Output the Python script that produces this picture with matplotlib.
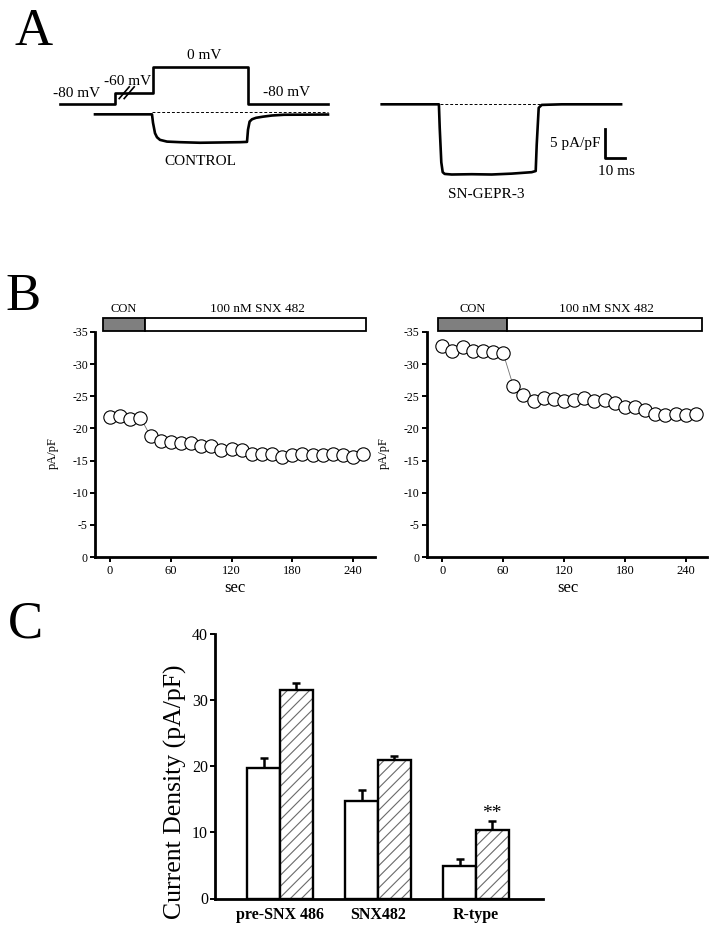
import numpy as np
import matplotlib
matplotlib.use("Agg")
import matplotlib.pyplot as plt
from matplotlib.patches import Rectangle
from matplotlib.transforms import blended_transform_factory, ScaledTranslation

plt.rcParams['font.family'] = ['Liberation Serif', 'DejaVu Serif']
plt.rcParams['axes.unicode_minus'] = False
plt.rcParams['hatch.linewidth'] = 0.8

# ---------------- data ----------------
# Panel A: voltage protocol (ms, mV)
protocol_t = [0, 27.5, 46.5, 94, 134]
protocol_mv = [-80, -60, 0, -80, -80]
# Panel A: CONTROL current trace (ms, pA/pF)
control_t = [17.5, 46, 46.5, 47.5, 48.5, 50, 53.5, 60, 70, 80, 90, 93.5,
             94, 94.8, 96, 98, 101.5, 106, 112, 134]
control_i = [-0.35, -0.35, -1.8, -3.6, -4.3, -4.75, -5.05, -5.15, -5.25, -5.2,
             -5.15, -5.1, -3.0, -1.6, -1.2, -0.95, -0.75, -0.55, -0.42, -0.38]
# Panel A: SN-GEPR-3 current trace (ms, pA/pF)
sn_t = [0, 28.6, 29.0, 29.8, 30.5, 31.5, 35, 45, 55, 65, 75, 77.0, 77.5,
        78.5, 80, 90, 119.7]
sn_i = [0, 0, -4, -10, -11.7, -12.0, -12.1, -12.05, -12.1, -11.95, -11.7,
        -11.5, -7, -0.6, -0.1, 0, 0]
scalebar_current = 5   # pA/pF
scalebar_time = 10     # ms

# Panel B: time course
time_s = [0, 10, 20, 30, 40, 50, 60, 70, 80, 90, 100, 110, 120, 130, 140,
          150, 160, 170, 180, 190, 200, 210, 220, 230, 240, 250]
left_current = [-21.8, -22.0, -21.5, -21.7, -18.8, -18.1, -17.9, -17.8, -17.8,
                -17.3, -17.2, -16.6, -16.8, -16.6, -16.0, -16.1, -16.0, -15.5,
                -15.8, -16.1, -15.8, -15.9, -16.1, -15.8, -15.6, -16.0]
right_current = [-32.8, -32.0, -32.7, -32.1, -32.0, -31.9, -31.7, -26.6, -25.2,
                 -24.2, -24.8, -24.6, -24.2, -24.5, -24.8, -24.2, -24.4, -23.9,
                 -23.4, -23.3, -22.9, -22.2, -22.1, -22.2, -22.1, -22.2]
left_bar = [-6.6, 34.3, 253.0]     # start, end of CON, end of SNX
right_bar = [-4.5, 63.8, 256.2]
bar_labels = ['CON', '100 nM SNX 482']
b_yticks = [0, -5, -10, -15, -20, -25, -30, -35]
b_xticks = [0, 60, 120, 180, 240]

# Panel C: current density
categories = ['pre-SNX 486', 'SNX482', 'R-type']
white_mean = [19.7, 14.8, 4.9]
white_sem = [1.6, 1.6, 1.0]
hatched_mean = [31.5, 20.9, 10.3]
hatched_sem = [1.1, 0.6, 1.4]
c_yticks = [0, 10, 20, 30, 40]

# ---------------- figure ----------------
W, H = 716, 936
fig = plt.figure(figsize=(W / 100, H / 100), dpi=100)


def px_axes(x0, y0, x1, y1):
    return fig.add_axes([x0 / W, 1 - y1 / H, (x1 - x0) / W, (y1 - y0) / H])


def ftext(x, y, s, **kw):
    kw.setdefault('va', 'baseline')
    fig.text(x / W, 1 - y / H, s, **kw)


# ---------- Panel A ----------
levels = [-400, -80, -60, 0, 400]
disp = [-180.8, 0, 11.3, 37.3, 210.6]


def fwd(v):
    return np.interp(v, levels, disp)


def inv(d):
    return np.interp(d, disp, levels)


axP = px_axes(40, 40, 360, 130)
axP.set_yscale('function', functions=(fwd, inv))
axP.plot(protocol_t, protocol_mv, drawstyle='steps-post', color='k', lw=1.9)
axP.set_xlim(-10, 150)
axP.set_ylim(-126.0, 61.6)
axP.axis('off')
axP.patch.set_alpha(0)
tr = fig.dpi_scale_trans + ScaledTranslation(33.35, -60, axP.transData)
for off in (-0.025, 0.025):
    axP.plot([off - 0.05, off + 0.05], [-0.0585, 0.0585], transform=tr,
             color='k', lw=1.2, clip_on=False)

axC = px_axes(40, 40, 360, 200)
axC.plot(control_t, control_i, color='k', lw=1.9, solid_joinstyle='round')
axC.plot([46, 134], [0, 0], color='k', lw=0.7, ls=(0, (3, 2)))
axC.set_xlim(-10, 150)
axC.set_ylim(-15.12, 12.47)
axC.axis('off')
axC.patch.set_alpha(0)

axS = px_axes(370, 40, 716, 210)
axS.plot(sn_t, sn_i, color='k', lw=1.9, solid_joinstyle='round')
axS.plot([29.2, 79.2], [0, 0], color='k', lw=0.7, ls=(0, (3, 2)))
sb_t, sb_i = 111.7, -9.3
axS.plot([sb_t, sb_t, sb_t + scalebar_time],
         [sb_i + scalebar_current, sb_i, sb_i], color='k', lw=2.0)
axS.set_xlim(-5.85, 167.15)
axS.set_ylim(-18.22, 11.09)
axS.axis('off')
axS.patch.set_alpha(0)

ftext(15, 45, 'A', ha='left', fontsize=38)
ftext(76.7, 96.7, '-80 mV', ha='center', fontsize=11)
ftext(127.5, 85, '-60 mV', ha='center', fontsize=11)
ftext(204, 59.3, '0 mV', ha='center', fontsize=11)
ftext(286.7, 96, '-80 mV', ha='center', fontsize=11)
ftext(200.8, 165, 'CONTROL', ha='center', fontsize=11)
ftext(486.7, 198.3, 'SN-GEPR-3', ha='center', fontsize=11)
ftext(600, 147.3, '5 pA/pF', ha='right', fontsize=11)
ftext(616.7, 175, '10 ms', ha='center', fontsize=11)

# ---------- Panel B ----------
ftext(5, 310, 'B', ha='left', fontsize=38)


def style_b(ax, data, bar, xlim, sec_xy):
    ax.plot(time_s, data, color='0.45', lw=0.6, zorder=2)
    ax.plot(time_s, data, ls='none', marker='o', ms=9.6, mfc='white',
            mec='k', mew=0.8, zorder=3, clip_on=False)
    ax.set_xlim(*xlim)
    ax.set_ylim(0, -35)
    ax.set_yticks(b_yticks)
    ax.set_xticks(b_xticks)
    for s in ('top', 'right'):
        ax.spines[s].set_visible(False)
    for s in ('left', 'bottom'):
        ax.spines[s].set_linewidth(2.0)
    ax.tick_params(axis='y', direction='out', length=3.6, width=1.4,
                   pad=1.5, labelsize=8.5)
    ax.tick_params(axis='x', direction='out', length=3.4, width=1.4,
                   pad=2.5, labelsize=9)
    ax.set_ylabel('pA/pF', fontsize=9, va='center')
    ax.yaxis.set_label_coords(-0.152, 0.46)
    ax.set_xlabel('sec', fontsize=12, va='baseline')
    ax.xaxis.set_label_coords(sec_xy[0], sec_xy[1])
    trb = blended_transform_factory(ax.transData, ax.transAxes)
    y0, h = 1.0044, 0.0566
    ax.add_patch(Rectangle((bar[0], y0), bar[1] - bar[0], h, transform=trb,
                           facecolor='#7f7f7f', edgecolor='k', lw=1.3,
                           clip_on=False))
    ax.add_patch(Rectangle((bar[1], y0), bar[2] - bar[1], h, transform=trb,
                           facecolor='white', edgecolor='k', lw=1.3,
                           clip_on=False))
    ax.text((bar[0] + bar[1]) / 2, 1.0876, bar_labels[0], transform=trb,
            ha='center', va='baseline', fontsize=9)
    ax.text((bar[1] + bar[2]) / 2 + 2, 1.0876, bar_labels[1], transform=trb,
            ha='center', va='baseline', fontsize=9.5)


axL = px_axes(95, 332, 375, 557)
style_b(axL, left_current, left_bar, (-14.8, 261.6), (0.5, -0.154))
axR = px_axes(426.7, 332, 706.7, 557)
style_b(axR, right_current, right_bar, (-15.4, 260.7), (0.505, -0.155))

# ---------- Panel C ----------
ftext(8, 638, 'C', ha='left', fontsize=38)
axB = px_axes(215, 634, 543, 898.5)
x = np.arange(len(categories))
w = 0.332
xw = x - w / 2
xh = x + w / 2
axB.errorbar(xw, white_mean, yerr=[np.zeros(3), white_sem], fmt='none',
             ecolor='k', elinewidth=1.8, capsize=2.6, capthick=1.8, zorder=1)
axB.errorbar(xh, hatched_mean, yerr=[np.zeros(3), hatched_sem], fmt='none',
             ecolor='k', elinewidth=1.8, capsize=2.6, capthick=1.8, zorder=1)
axB.bar(xw, white_mean, width=w, color='white', edgecolor='k', lw=1.7,
        zorder=2)
axB.bar(xh, hatched_mean, width=w, color='white', edgecolor='#6a6a6a',
        hatch='///', lw=0, zorder=2)
axB.bar(xh, hatched_mean, width=w, fill=False, edgecolor='k', lw=1.7,
        zorder=3)
axB.text(xh[2], hatched_mean[2] + hatched_sem[2] + 0.45, '**',
         ha='center', va='baseline', fontsize=14)
axB.set_xlim(-0.663, 2.684)
axB.set_ylim(0, 40)
axB.set_yticks(c_yticks)
axB.set_xticks(x)
axB.set_xticklabels(categories, fontweight='bold', fontsize=11.5)
for s in ('top', 'right'):
    axB.spines[s].set_visible(False)
for s in ('left', 'bottom'):
    axB.spines[s].set_linewidth(2.0)
axB.tick_params(axis='x', length=0, pad=6)
axB.tick_params(axis='y', direction='out', length=3.6, width=1.4, pad=1.5,
                labelsize=11.5)
axB.set_ylabel('Current Density (pA/pF)', fontsize=18.5, va='center')
axB.yaxis.set_label_coords(-0.122, 0.403)

fig.savefig('out.png', dpi=100)
